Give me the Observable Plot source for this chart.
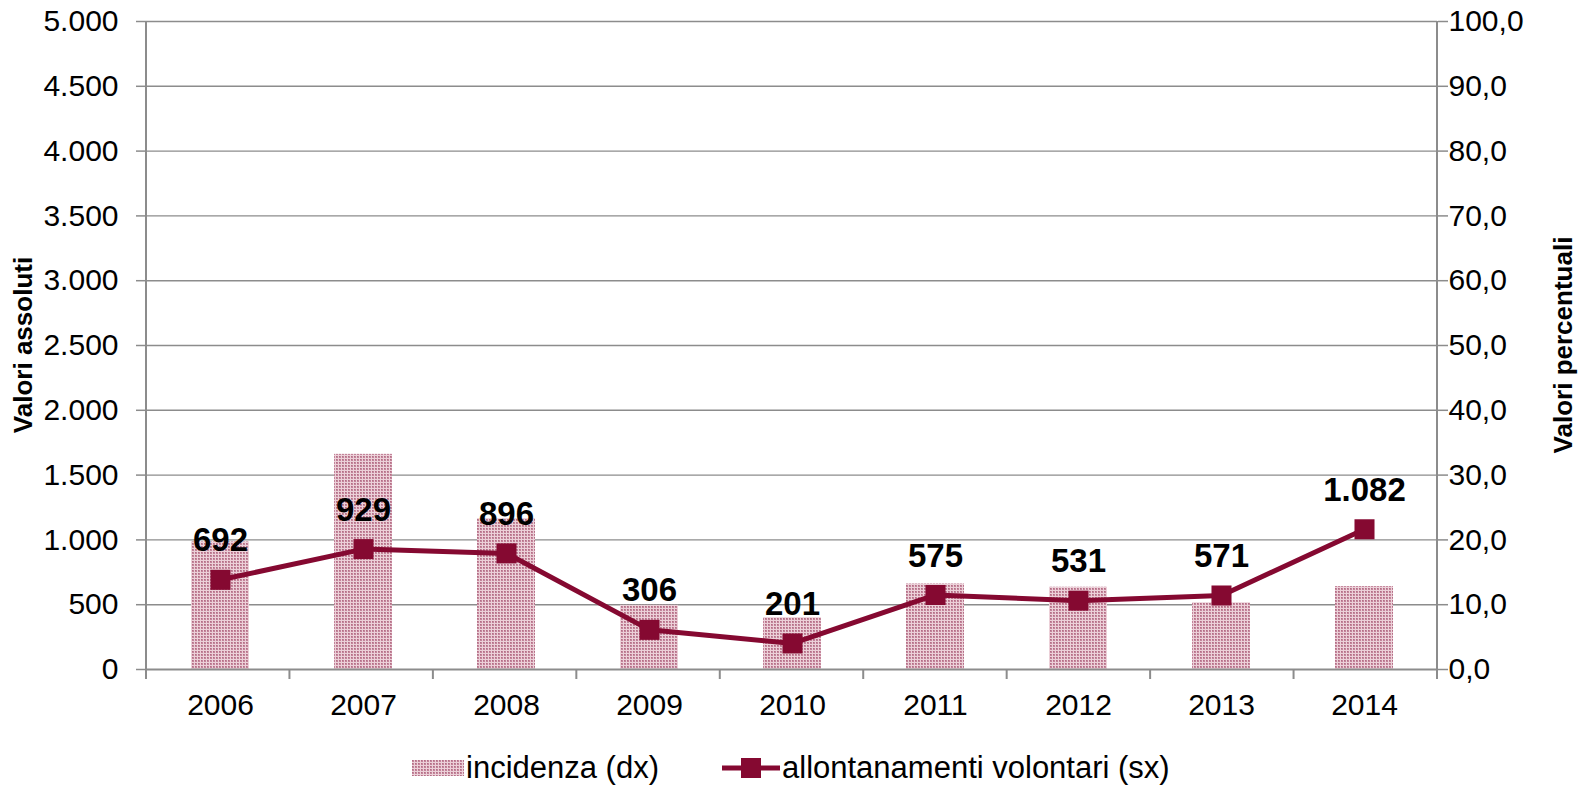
<!DOCTYPE html>
<html>
<head>
<meta charset="utf-8">
<script src="https://cdn.jsdelivr.net/npm/d3@7"></script>
<script src="https://cdn.jsdelivr.net/npm/@observablehq/plot@0.6"></script>
<style>
  html, body { margin: 0; padding: 0; background: #fff; }
  #wrap { width: 1584px; height: 786px; position: relative; font-family: "Liberation Sans", Arial, sans-serif; }
  #legend { position: absolute; left: 0; top: 748px; width: 1584px; height: 40px; }
  .lg-item { position: absolute; top: 0; display: flex; align-items: center; height: 40px; font-family: "Liberation Sans Narrow", "Arial Narrow", "Liberation Sans", sans-serif; font-size: 31px; color: #000; }
</style>
</head>
<body>
<div id="wrap">
  <div id="chart"></div>
  <div id="legend"></div>
</div>
<script>
const years = ["2006", "2007", "2008", "2009", "2010", "2011", "2012", "2013", "2014"];
const incidenza = [19.7, 33.2, 23.3, 9.9, 8.0, 13.2, 12.7, 10.3, 12.8];
const allontanamenti = [692, 929, 896, 306, 201, 575, 531, 571, 1082];
const leftTicks = [0, 500, 1000, 1500, 2000, 2500, 3000, 3500, 4000, 4500, 5000];
const rightTicks = [0, 10, 20, 30, 40, 50, 60, 70, 80, 90, 100];

const lineColor = "#850931";
const axisGray = "#8c8c8c";
const ratio = 5000 / 100; // right axis mapped onto left scale

const data = years.map((y, i) => ({year: y, pct: incidenza[i], abs: allontanamenti[i]}));
const fmtIt = d => d3.format(",")(d).replace(/,/g, ".");
const fmtPct = d => d3.format(".1f")(d).replace(".", ",");

const W = 1584, H = 718;
const chart = Plot.plot({
  width: W,
  height: H,
  marginLeft: 146,
  marginRight: 147,
  marginTop: 21,
  marginBottom: 49,
  style: {fontFamily: "'Liberation Sans', Arial, sans-serif", fontSize: "30px", color: "#000", background: "#fff", overflow: "visible"},
  x: {domain: years, paddingInner: 0.596, paddingOuter: 0.298, align: 0.5, label: null},
  y: {domain: [0, 5000], label: null},
  marks: [
    Plot.ruleY(leftTicks.filter(d => d > 0), {stroke: axisGray, strokeWidth: 1.4}),
    Plot.barY(data, {x: "year", y: d => d.pct * ratio, fill: "url(#checker)"}),
    Plot.ruleY([0], {stroke: axisGray, strokeWidth: 2}),
    Plot.axisY(leftTicks, {anchor: "left", tickFormat: fmtIt, tickSize: 10, tickPadding: 18, stroke: axisGray, strokeWidth: 1.5, fontSize: 30, fill: "#000", label: null}),
    Plot.axisY(rightTicks.map(d => d * ratio), {anchor: "right", tickFormat: d => fmtPct(d / ratio), tickSize: 10, tickPadding: 1, stroke: axisGray, strokeWidth: 1.5, fontSize: 30, fill: "#000", label: null}),
    Plot.axisX({tickSize: 0, tickPadding: 24, fontSize: 30, fill: "#000", label: null}),
    Plot.line(data, {x: "year", y: "abs", stroke: lineColor, strokeWidth: 5}),
    Plot.dot(data, {x: "year", y: "abs", symbol: "square", r: 11.3, fill: lineColor, stroke: "none"}),
    Plot.text(data, {x: "year", y: "abs", text: d => fmtIt(d.abs), dy: -39, fontSize: 33, fontWeight: "bold", fill: "#000", textAnchor: "middle", lineAnchor: "middle", fontFamily: "'Liberation Sans', Arial, sans-serif"})
  ]
});

// pattern, axis frame lines, band-boundary ticks, axis titles
const svg = d3.select(chart);
const defs = svg.insert("defs", ":first-child");
const pat = defs.append("pattern").attr("id", "checker").attr("patternUnits", "userSpaceOnUse")
  .attr("width", 3).attr("height", 3);
pat.append("rect").attr("width", 3).attr("height", 3).attr("fill", "#ecd0d8");
pat.append("rect").attr("width", 2).attr("height", 2).attr("fill", "#c3849a");
pat.append("rect").attr("x", 0).attr("y", 0).attr("width", 1).attr("height", 1).attr("fill", "#b26d84");

const x0 = 146, x1 = W - 147, yTop = 21, yBot = H - 49;
const g = svg.append("g").attr("stroke", axisGray).attr("stroke-width", 2).attr("fill", "none");
g.append("line").attr("x1", x0).attr("x2", x0).attr("y1", yTop).attr("y2", yBot + 1);
g.append("line").attr("x1", x1).attr("x2", x1).attr("y1", yTop).attr("y2", yBot + 1);
const step = (x1 - x0) / years.length;
for (let i = 0; i <= years.length; i++) {
  const xx = x0 + i * step;
  g.append("line").attr("x1", xx).attr("x2", xx).attr("y1", yBot).attr("y2", yBot + 10);
}
svg.append("text").attr("transform", `translate(23,${(yTop + yBot) / 2}) rotate(-90)`)
  .attr("text-anchor", "middle").attr("dominant-baseline", "central")
  .attr("font-family", "'Liberation Sans Narrow', 'Arial Narrow', 'Liberation Sans', sans-serif")
  .attr("font-weight", "bold").attr("font-size", 26).attr("fill", "#000").text("Valori assoluti");
svg.append("text").attr("transform", `translate(1563,${(yTop + yBot) / 2}) rotate(-90)`)
  .attr("text-anchor", "middle").attr("dominant-baseline", "central")
  .attr("font-family", "'Liberation Sans Narrow', 'Arial Narrow', 'Liberation Sans', sans-serif")
  .attr("font-weight", "bold").attr("font-size", 26).attr("fill", "#000").text("Valori percentuali");

document.getElementById("chart").appendChild(chart);

// legend
const legend = document.getElementById("legend");
const item1 = document.createElement("div");
item1.className = "lg-item";
item1.style.left = "412px";
item1.innerHTML = `<svg width="52" height="16" style="margin-right:2px"><defs><pattern id="checker2" patternUnits="userSpaceOnUse" width="3" height="3"><rect width="3" height="3" fill="#ecd0d8"/><rect width="2" height="2" fill="#c3849a"/><rect width="1" height="1" fill="#b26d84"/></pattern></defs><rect width="52" height="16" fill="url(#checker2)"/></svg><span>incidenza (dx)</span>`;
legend.appendChild(item1);
const item2 = document.createElement("div");
item2.className = "lg-item";
item2.style.left = "722px";
item2.innerHTML = `<svg width="58" height="24" style="margin-right:2px"><line x1="0" x2="58" y1="12" y2="12" stroke="${lineColor}" stroke-width="5"/><rect x="19" y="2" width="20" height="20" fill="${lineColor}"/></svg><span>allontanamenti volontari (sx)</span>`;
legend.appendChild(item2);
</script>
</body>
</html>
